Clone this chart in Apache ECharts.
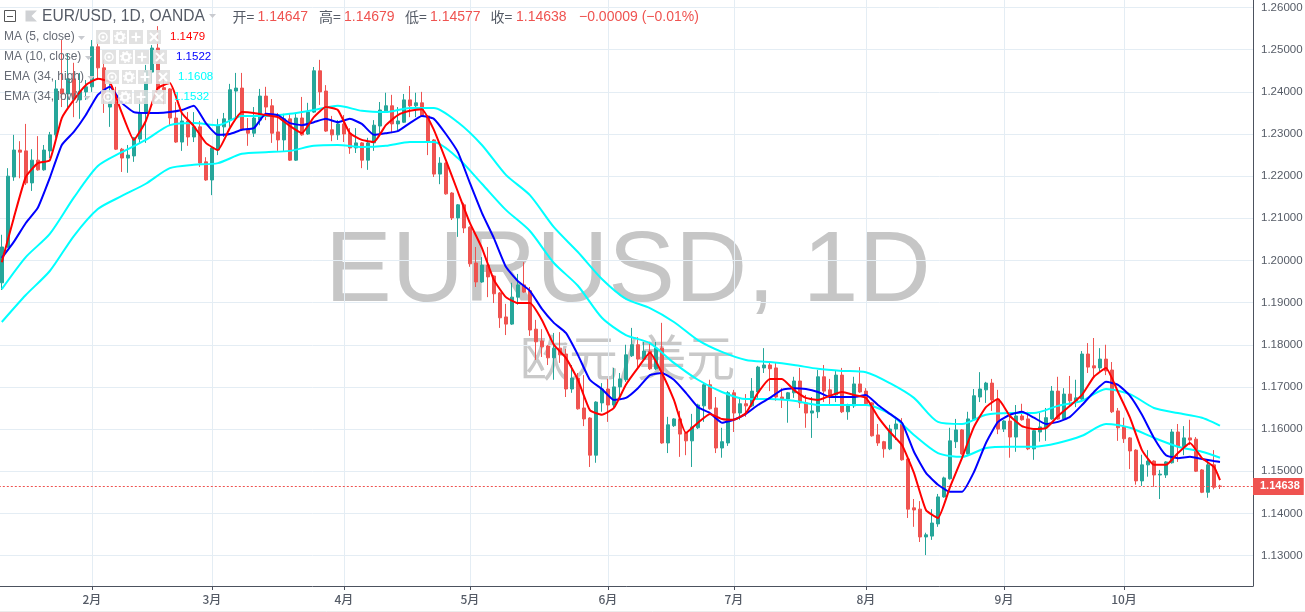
<!DOCTYPE html>
<html>
<head>
<meta charset="utf-8">
<title>EUR/USD 1D</title>
<style>html,body{margin:0;padding:0;background:#fff}#chart{width:1305px;height:612px}</style>
<script src="https://cdn.jsdelivr.net/npm/echarts@6/dist/echarts.min.js"></script>
</head>
<body>
<div id="chart"></div>
<script>
// Daily candles: [open, close, low, high]
const candles = [
[1.1947,1.2032,1.1930,1.2061],[1.2032,1.2200,1.2030,1.2219],[1.2198,1.2262,1.2189,1.2298],[1.2262,1.2257,1.2195,1.2283],
[1.2260,1.2184,1.2179,1.2324],[1.2184,1.2238,1.2165,1.2264],[1.2238,1.2215,1.2213,1.2295],[1.2215,1.2262,1.2213,1.2274],
[1.2260,1.2298,1.2243,1.2305],[1.2298,1.2407,1.2291,1.2428],[1.2407,1.2395,1.2364,1.2523],[1.2395,1.2431,1.2357,1.2492],
[1.2431,1.2383,1.2340,1.2469],[1.2381,1.2402,1.2336,1.2445],[1.2400,1.2412,1.2381,1.2428],[1.2412,1.2507,1.2400,1.2523],
[1.2507,1.2457,1.2428,1.2518],[1.2457,1.2386,1.2350,1.2476],[1.2364,1.2376,1.2317,1.2428],[1.2376,1.2264,1.2262,1.2412],
[1.2264,1.2243,1.2210,1.2267],[1.2243,1.2250,1.2208,1.2274],[1.2248,1.2291,1.2234,1.2293],[1.2288,1.2350,1.2279,1.2381],
[1.2350,1.2450,1.2279,1.2464],[1.2447,1.2504,1.2421,1.2511],[1.2504,1.2407,1.2405,1.2556],[1.2410,1.2405,1.2371,1.2433],
[1.2407,1.2338,1.2319,1.2409],[1.2338,1.2281,1.2279,1.2376],[1.2281,1.2331,1.2260,1.2357],[1.2331,1.2293,1.2272,1.2352],
[1.2293,1.2317,1.2281,1.2352],[1.2317,1.2231,1.2222,1.2331],[1.2234,1.2191,1.2189,1.2245],[1.2191,1.2267,1.2155,1.2269],
[1.2262,1.2319,1.2250,1.2336],[1.2317,1.2336,1.2293,1.2350],[1.2333,1.2405,1.2317,1.2419],[1.2402,1.2409,1.2338,1.2445],
[1.2409,1.2310,1.2307,1.2445],[1.2312,1.2302,1.2272,1.2338],[1.2302,1.2338,1.2293,1.2364],[1.2333,1.2390,1.2321,1.2407],
[1.2390,1.2364,1.2333,1.2412],[1.2367,1.2302,1.2279,1.2383],[1.2305,1.2286,1.2260,1.2350],[1.2286,1.2336,1.2260,1.2348],
[1.2336,1.2238,1.2236,1.2348],[1.2238,1.2338,1.2236,1.2350],[1.2338,1.2298,1.2296,1.2388],[1.2300,1.2352,1.2298,1.2374],
[1.2352,1.2450,1.2350,1.2459],[1.2450,1.2400,1.2369,1.2476],[1.2402,1.2307,1.2305,1.2416],[1.2310,1.2298,1.2283,1.2343],
[1.2298,1.2324,1.2286,1.2333],[1.2324,1.2300,1.2281,1.2345],[1.2302,1.2267,1.2253,1.2314],[1.2267,1.2279,1.2255,1.2314],
[1.2279,1.2238,1.2219,1.2281],[1.2238,1.2279,1.2215,1.2291],[1.2279,1.2321,1.2260,1.2333],[1.2319,1.2357,1.2302,1.2376],
[1.2355,1.2367,1.2350,1.2398],[1.2367,1.2324,1.2302,1.2393],[1.2324,1.2331,1.2307,1.2364],[1.2328,1.2381,1.2326,1.2395],
[1.2381,1.2367,1.2340,1.2414],[1.2367,1.2374,1.2340,1.2398],[1.2374,1.2343,1.2341,1.2400],[1.2343,1.2283,1.2250,1.2345],
[1.2286,1.2205,1.2198,1.2288],[1.2205,1.2231,1.2181,1.2245],[1.2231,1.2158,1.2156,1.2233],[1.2160,1.2101,1.2096,1.2162],
[1.2101,1.2132,1.2056,1.2134],[1.2132,1.2077,1.2065,1.2137],[1.2079,1.1992,1.1985,1.2081],[1.1994,1.1949,1.1937,1.2032],
[1.1949,1.1989,1.1947,1.2008],[1.1989,1.1961,1.1913,1.2032],[1.1963,1.1921,1.1899,1.1965],[1.1923,1.1864,1.1840,1.1925],
[1.1866,1.1849,1.1823,1.1897],[1.1849,1.1913,1.1847,1.1947],[1.1913,1.1942,1.1895,1.1968],[1.1942,1.1925,1.1923,1.1996],
[1.1928,1.1835,1.1821,1.1937],[1.1837,1.1807,1.1764,1.1859],[1.1809,1.1795,1.1771,1.1837],[1.1797,1.1769,1.1752,1.1799],
[1.1769,1.1792,1.1717,1.1828],[1.1792,1.1776,1.1757,1.1830],[1.1778,1.1695,1.1676,1.1790],[1.1695,1.1721,1.1686,1.1752],
[1.1721,1.1648,1.1646,1.1733],[1.1650,1.1624,1.1607,1.1728],[1.1626,1.1538,1.1510,1.1628],[1.1538,1.1664,1.1520,1.1666],
[1.1662,1.1695,1.1641,1.1709],[1.1695,1.1657,1.1617,1.1719],[1.1657,1.1700,1.1652,1.1745],[1.1700,1.1719,1.1674,1.1733],
[1.1717,1.1776,1.1712,1.1800],[1.1774,1.1800,1.1771,1.1840],[1.1800,1.1766,1.1745,1.1818],[1.1766,1.1785,1.1764,1.1807],
[1.1785,1.1743,1.1740,1.1807],[1.1743,1.1792,1.1740,1.1807],[1.1792,1.1567,1.1565,1.1852],[1.1567,1.1610,1.1543,1.1629],
[1.1608,1.1624,1.1605,1.1626],[1.1624,1.1588,1.1534,1.1643],[1.1591,1.1572,1.1538,1.1593],[1.1572,1.1605,1.1510,1.1636],
[1.1603,1.1657,1.1600,1.1660],[1.1655,1.1705,1.1617,1.1709],[1.1705,1.1648,1.1646,1.1717],[1.1650,1.1555,1.1543,1.1676],
[1.1555,1.1570,1.1532,1.1603],[1.1567,1.1686,1.1560,1.1690],[1.1686,1.1638,1.1593,1.1693],[1.1638,1.1660,1.1622,1.1674],
[1.1660,1.1655,1.1629,1.1683],[1.1655,1.1690,1.1652,1.1721],[1.1688,1.1747,1.1674,1.1750],[1.1745,1.1752,1.1733,1.1792],
[1.1752,1.1743,1.1690,1.1759],[1.1745,1.1676,1.1667,1.1759],[1.1676,1.1671,1.1650,1.1697],[1.1671,1.1686,1.1615,1.1688],
[1.1686,1.1714,1.1674,1.1724],[1.1714,1.1662,1.1650,1.1745],[1.1662,1.1638,1.1603,1.1681],[1.1638,1.1643,1.1579,1.1676],
[1.1641,1.1724,1.1626,1.1740],[1.1724,1.1690,1.1664,1.1752],[1.1693,1.1681,1.1655,1.1719],[1.1681,1.1728,1.1664,1.1738],
[1.1728,1.1641,1.1638,1.1745],[1.1641,1.1657,1.1622,1.1660],[1.1655,1.1707,1.1650,1.1724],[1.1707,1.1688,1.1686,1.1747],
[1.1690,1.1660,1.1657,1.1697],[1.1662,1.1584,1.1582,1.1664],[1.1586,1.1567,1.1560,1.1612],[1.1570,1.1553,1.1532,1.1572],
[1.1553,1.1600,1.1550,1.1610],[1.1600,1.1612,1.1574,1.1629],[1.1612,1.1527,1.1525,1.1626],[1.1529,1.1410,1.1389,1.1531],
[1.1413,1.1408,1.1368,1.1434],[1.1410,1.1344,1.1332,1.1429],[1.1344,1.1349,1.1301,1.1354],[1.1346,1.1377,1.1337,1.1410],
[1.1375,1.1439,1.1368,1.1446],[1.1439,1.1484,1.1437,1.1487],[1.1482,1.1572,1.1480,1.1603],[1.1570,1.1598,1.1555,1.1624],
[1.1598,1.1541,1.1539,1.1600],[1.1541,1.1624,1.1539,1.1641],[1.1622,1.1679,1.1620,1.1695],[1.1676,1.1695,1.1664,1.1735],
[1.1693,1.1709,1.1662,1.1712],[1.1709,1.1669,1.1643,1.1719],[1.1671,1.1600,1.1588,1.1693],[1.1600,1.1619,1.1593,1.1621],
[1.1619,1.1581,1.1532,1.1631],[1.1581,1.1631,1.1546,1.1657],[1.1631,1.1622,1.1620,1.1660],[1.1624,1.1553,1.1550,1.1641],
[1.1553,1.1596,1.1527,1.1598],[1.1593,1.1605,1.1570,1.1638],[1.1603,1.1627,1.1572,1.1650],[1.1624,1.1690,1.1622,1.1702],
[1.1690,1.1624,1.1622,1.1724],[1.1624,1.1683,1.1622,1.1697],[1.1683,1.1667,1.1652,1.1726],[1.1667,1.1674,1.1652,1.1717],
[1.1671,1.1778,1.1669,1.1785],[1.1778,1.1747,1.1733,1.1804],[1.1750,1.1745,1.1724,1.1816],[1.1745,1.1766,1.1735,1.1792],
[1.1766,1.1738,1.1728,1.1800],[1.1740,1.1641,1.1638,1.1759],[1.1643,1.1603,1.1572,1.1650],[1.1605,1.1577,1.1567,1.1627],
[1.1579,1.1548,1.1505,1.1581],[1.1550,1.1477,1.1468,1.1552],[1.1477,1.1515,1.1465,1.1539],[1.1515,1.1524,1.1487,1.1550],
[1.1524,1.1491,1.1463,1.1526],[1.1491,1.1493,1.1434,1.1503],[1.1491,1.1522,1.1484,1.1524],[1.1520,1.1593,1.1518,1.1600],
[1.1593,1.1558,1.1522,1.1612],[1.1558,1.1579,1.1538,1.1607],[1.1579,1.1574,1.1562,1.1622],[1.1576,1.1500,1.1498,1.1581],
[1.1503,1.1450,1.1448,1.1505],[1.1450,1.1515,1.1437,1.1527],[1.1515,1.1462,1.1457,1.1550],[1.14647,1.14638,1.14577,1.14679]
];

// Moving averages, read every second session; the final session is appended last
const ma5 = [1.1996,1.2101,1.2198,1.2231,1.2238,1.2338,1.2381,1.2416,1.2431,1.2423,1.2350,1.2286,1.2331,1.2409,1.2421,1.2350,
1.2319,1.2279,1.2262,1.2314,1.2352,1.2350,1.2345,1.2340,1.2319,1.2302,1.2340,1.2364,1.2357,1.2302,1.2286,1.2281,
1.2321,1.2345,1.2355,1.2359,1.2310,1.2238,1.2163,1.2089,1.2030,1.1954,1.1913,1.1899,1.1899,1.1859,1.1800,1.1769,
1.1717,1.1645,1.1634,1.1650,1.1705,1.1745,1.1781,1.1733,1.1669,1.1591,1.1615,1.1636,1.1624,1.1622,1.1638,1.1686,
1.1719,1.1719,1.1693,1.1674,1.1669,1.1679,1.1688,1.1681,1.1674,1.1629,1.1593,1.1562,1.1496,1.1408,1.1389,1.1462,
1.1531,1.1605,1.1652,1.1671,1.1631,1.1607,1.1600,1.1602,1.1631,1.1655,1.1681,1.1724,1.1745,1.1688,1.1627,1.1550,
1.1515,1.1515,1.1543,1.1567,1.1531,1.1510,1.1479];
const ma10 = [1.2006,1.2044,1.2089,1.2125,1.2196,1.2274,1.2305,1.2345,1.2393,1.2412,1.2374,1.2352,1.2350,1.2350,1.2352,1.2357,
1.2367,1.2326,1.2298,1.2300,1.2310,1.2314,1.2348,1.2345,1.2326,1.2321,1.2328,1.2336,1.2328,1.2336,1.2324,1.2298,
1.2302,1.2307,1.2326,1.2343,1.2336,1.2300,1.2257,1.2184,1.2113,1.2053,1.1985,1.1951,1.1928,1.1885,1.1852,1.1828,
1.1776,1.1717,1.1695,1.1669,1.1674,1.1697,1.1728,1.1733,1.1717,1.1686,1.1652,1.1638,1.1615,1.1622,1.1636,1.1657,
1.1674,1.1693,1.1697,1.1695,1.1688,1.1676,1.1676,1.1676,1.1681,1.1657,1.1636,1.1615,1.1546,1.1496,1.1468,1.1451,
1.1451,1.1498,1.1567,1.1617,1.1634,1.1641,1.1627,1.1612,1.1617,1.1629,1.1657,1.1688,1.1712,1.1705,1.1679,1.1634,
1.1579,1.1538,1.1531,1.1534,1.1529,1.1524,1.1522];

// EMA(34) channel, read every fourth session; the final session is appended last
const emaHigh = [1.1932,1.2008,1.2063,1.2149,1.2224,1.2257,1.2286,1.2321,1.2326,1.2321,1.2343,1.2343,1.2348,1.2357,1.2367,1.2355,
1.2352,1.2362,1.2362,1.2328,1.2274,1.2203,1.2155,1.2079,1.2020,1.1956,1.1909,1.1887,1.1854,1.1811,1.1783,1.1764,
1.1759,1.1752,1.1743,1.1738,1.1735,1.1709,1.1674,1.1617,1.1612,1.1634,1.1638,1.1638,1.1655,1.1667,1.1695,1.1683,
1.1650,1.1638,1.1627,1.1608];
const emaLow = [1.1854,1.1918,1.1975,1.2058,1.2122,1.2153,1.2182,1.2219,1.2227,1.2231,1.2253,1.2257,1.2260,1.2272,1.2274,1.2269,
1.2272,1.2281,1.2281,1.2243,1.2182,1.2120,1.2070,1.1994,1.1940,1.1864,1.1823,1.1804,1.1757,1.1717,1.1688,1.1671,
1.1671,1.1667,1.1657,1.1657,1.1657,1.1636,1.1586,1.1543,1.1534,1.1555,1.1558,1.1558,1.1567,1.1584,1.1612,1.1603,
1.1579,1.1558,1.1546,1.1532];

const monthSessions = [15,35,57,78,101,122,144,167,187];
const monthLabels = ['2月','3月','4月','5月','6月','7月','8月','9月','10月'];
const priceTicks = [1.13,1.14,1.15,1.16,1.17,1.18,1.19,1.20,1.21,1.22,1.23,1.24,1.25,1.26];
const priceMin = 1.12276, priceMax = 1.26180;
const sessionSlots = 209;
const symbolText = 'EUR/USD, 1D, OANDA';
const changeText = '−0.00009 (−0.01%)';
const studyNames = ['MA (5, close)','MA (10, close)','EMA (34, high)','EMA (34, low)'];

const GREEN = '#26a69a', RED = '#ef5350', GRID = '#e4edf4', AXIS = '#4c525e', TXT = '#555b66';
const SANS = '"Liberation Sans", Arial, sans-serif';
const CJK = '"Noto Sans CJK SC", "Liberation Sans", sans-serif';

const categories = Array.from({length: sessionSlots}, (_, i) => {
  const m = monthSessions.indexOf(i);
  return m >= 0 ? monthLabels[m] : String(i);
});
const isMonth = i => monthSessions.includes(i);
const last = candles.length - 1;

// Pair sampled readings with their session index; the last reading is the final session
const sampled = (values, step) => values.map((v, i) => [i === values.length - 1 ? last : i * step, v]);

// Header and study legend, painted above the plot
const text = (x, y, t, fill, size, family, weight, z) => ({
  type: 'text', x, y, z: z === undefined ? 50 : z, silent: true,
  style: {text: t, fill, font: `${weight || 'normal'} ${size}px ${family || SANS}`, textVerticalAlign: 'middle'}
});
const tri = (x, y, w) => ({
  type: 'polygon', z: 50, silent: true,
  shape: {points: [[x, y], [x + w, y], [x + w / 2, y + 4]]}, style: {fill: '#c9cbd0'}
});
function studyButtons(x, y, gaps) {
  const out = [];
  gaps.forEach((bx, b) => {
    out.push({type: 'rect', z: 50, silent: true, shape: {x: x + bx, y, width: 14, height: 14},
      style: {fill: 'rgba(222,222,222,0.88)'}});
    const cx = x + bx + 7, cy = y + 7;
    const line = (a, c, d, e) => ({type: 'line', z: 51, silent: true, shape: {x1: a, y1: c, x2: d, y2: e},
      style: {stroke: '#fff', lineWidth: 2}});
    if (b === 0) {
      out.push({type: 'circle', z: 51, silent: true, shape: {cx, cy, r: 4}, style: {fill: 'none', stroke: '#fff', lineWidth: 1.5}});
      out.push({type: 'circle', z: 51, silent: true, shape: {cx, cy, r: 1.5}, style: {fill: '#fff'}});
    } else if (b === 1) {
      out.push({type: 'circle', z: 51, silent: true, shape: {cx, cy, r: 3.5}, style: {fill: 'none', stroke: '#fff', lineWidth: 2.4}});
      out.push({type: 'circle', z: 51, silent: true, shape: {cx, cy, r: 5.2}, style: {fill: 'none', stroke: '#fff', lineWidth: 1.4, lineDash: [2, 2]}});
    } else if (b === 2) {
      out.push(line(cx - 4.5, cy, cx + 4.5, cy), line(cx, cy - 4.5, cx, cy + 4.5));
    } else {
      out.push(line(cx - 4, cy - 4, cx + 4, cy + 4), line(cx + 4, cy - 4, cx - 4, cy + 4));
    }
  });
  return out;
}

const lc = candles[last];
const headerParts = [
  [232.5, '开=', TXT, CJK], [257.5, lc[0].toFixed(5), RED],
  [319, '高=', TXT, CJK], [344, lc[3].toFixed(5), RED],
  [405, '低=', TXT, CJK], [430, lc[2].toFixed(5), RED],
  [490.5, '收=', TXT, CJK], [516, lc[1].toFixed(5), RED],
  [579, changeText, RED]
];
const studyRows = [
  {y: 37, tx: 78, bx: 96, vx: 170, color: '#ff0000', v: ma5},
  {y: 57, tx: 85, bx: 102, vx: 176, color: '#0000ff', v: ma10},
  {y: 77, tx: 87.5, bx: 105, vx: 178, color: '#00ffff', v: emaHigh},
  {y: 97, tx: 83.5, bx: 101, vx: 174, color: '#00ffff', v: emaLow}
];

const graphics = [
  // Watermark behind the series
  {type: 'text', x: 325, y: 273.5, z: -10, silent: true,
   style: {text: 'EURUSD, 1D', fill: '#c6c6c6', font: `100px ${SANS}`, textVerticalAlign: 'middle'}},
  {type: 'text', x: 520, y: 357, z: -10, silent: true,
   style: {text: '欧元/美元', fill: '#c9c9c9', font: `49px ${CJK}`, textVerticalAlign: 'middle'}},
  // Collapse box and symbol flag
  {type: 'rect', z: 50, silent: true, shape: {x: 4.5, y: 10.5, width: 11, height: 11}, style: {fill: 'rgba(255,255,255,0.6)', stroke: '#555', lineWidth: 1}},
  {type: 'line', z: 50, silent: true, shape: {x1: 7, y1: 16.5, x2: 13, y2: 16.5}, style: {stroke: '#555', lineWidth: 1}},
  {type: 'polygon', z: 50, silent: true, shape: {points: [[25.5, 10.5], [37, 10.5], [31.5, 16], [37, 21.5], [25.5, 21.5]]}, style: {fill: '#cfd1d4'}},
  text(42, 16.5, symbolText, '#555b66', 15.6, SANS),
  tri(209, 14, 7),
  ...headerParts.map(p => text(p[0], 17, p[1], p[2], 14, p[3])),
  ...studyNames.flatMap((name, i) => {
    const r = studyRows[i];
    return [
      text(4, r.y, name, '#666b75', 12),
      tri(r.tx, r.y - 1, 7),
      ...studyButtons(r.bx, r.y - 7, [0, 17, 33, 51]),
      text(r.vx, r.y, r.v[r.v.length - 1].toFixed(4), r.color, 11.5)
    ];
  }),
  {type: 'line', z: 1, silent: true, shape: {x1: 0, y1: 611.5, x2: 1305, y2: 611.5}, style: {stroke: '#ececec', lineWidth: 1}}
];

const lineSeries = (name, values, step, color) => ({
  name, type: 'line', data: sampled(values, step), showSymbol: false, symbol: 'none', z: 5,
  smooth: step === 4 ? 0.25 : 0.15, lineStyle: {color, width: 2}, itemStyle: {color}, silent: true, animation: false
});

const chart = echarts.init(document.getElementById('chart'), null, {renderer: 'canvas'});
chart.setOption({
  animation: false,
  backgroundColor: '#fff',
  graphic: graphics,
  grid: {left: -1.2, top: 0, width: 1254.2, height: 586, containLabel: false, outerBoundsMode: 'none'},
  xAxis: {
    type: 'category', data: categories, boundaryGap: true,
    axisLine: {show: true, onZero: false, lineStyle: {color: AXIS, width: 1}},
    axisTick: {show: true, length: 4, interval: isMonth, alignWithLabel: true, lineStyle: {color: AXIS}},
    axisLabel: {interval: isMonth, color: TXT, fontSize: 12, fontFamily: CJK, margin: 7, fontWeight: 500},
    splitLine: {show: true, interval: isMonth, alignWithLabel: true, lineStyle: {color: GRID, width: 1}}
  },
  yAxis: {
    type: 'value', position: 'right', scale: true, min: priceMin, max: priceMax,
    axisLine: {show: true, onZero: false, lineStyle: {color: AXIS, width: 1}},
    axisTick: {show: false, customValues: priceTicks},
    axisLabel: {customValues: priceTicks, formatter: v => v.toFixed(5), color: TXT, fontSize: 11.5, fontFamily: SANS, margin: 8, padding: [3, 0, 0, 0]},
    splitLine: {show: true, lineStyle: {color: GRID, width: 1}}
  },
  series: [
    {
      name: 'EUR/USD', type: 'candlestick', data: candles, barWidth: 4, z: 3, silent: true,
      itemStyle: {color: GREEN, color0: RED, borderColor: GREEN, borderColor0: RED, borderWidth: 1},
      markLine: {
        silent: true, symbol: 'none', animation: false, precision: 5,
        data: [{yAxis: lc[1]}],
        lineStyle: {color: RED, type: [2, 2], width: 1},
        label: {
          show: true, position: 'end', distance: 0, formatter: () => lc[1].toFixed(5),
          color: '#fff', fontWeight: 'bold', fontSize: 11, fontFamily: SANS,
          backgroundColor: RED, padding: [3, 4, 3, 7]
        }
      }
    },
    lineSeries('EMA 34 high', emaHigh, 4, '#00ffff'),
    lineSeries('EMA 34 low', emaLow, 4, '#00ffff'),
    lineSeries('MA 10', ma10, 2, '#0000ff'),
    lineSeries('MA 5', ma5, 2, '#ff0000')
  ]
});
</script>
</body>
</html>
